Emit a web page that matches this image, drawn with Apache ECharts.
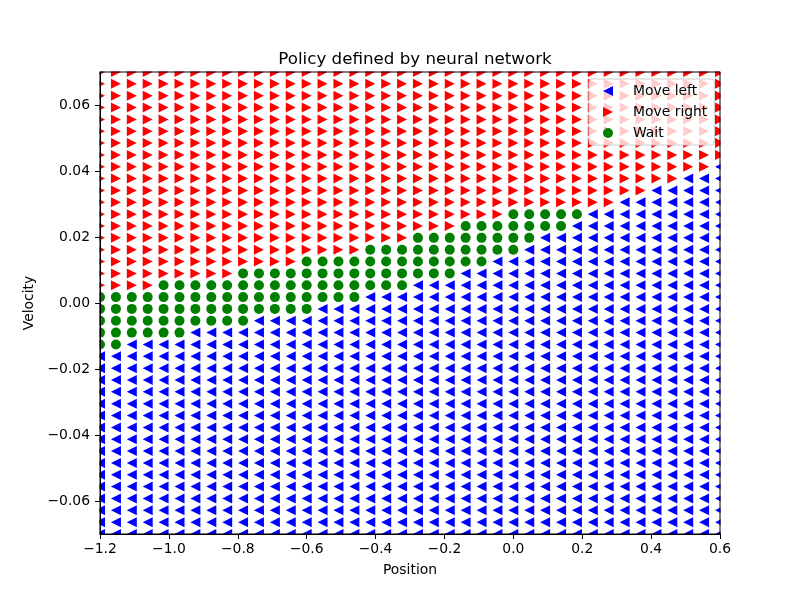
<!DOCTYPE html>
<html>
<head>
<meta charset="utf-8">
<title>Policy defined by neural network</title>
<script src="https://cdn.jsdelivr.net/npm/echarts@6/dist/echarts.min.js"></script>
<style>
  html, body { margin: 0; padding: 0; background: #fff; }
  #chart { width: 800px; height: 600px; }
</style>
</head>
<body>
<div id="chart"></div>
<script>
// grid of states the policy was evaluated on
var positions = [
  -1.2, -1.1538, -1.1077, -1.0615, -1.0154, -0.9692, -0.9231, -0.8769, -0.8308, -0.7846,
  -0.7385, -0.6923, -0.6462, -0.6, -0.5538, -0.5077, -0.4615, -0.4154, -0.3692, -0.3231,
  -0.2769, -0.2308, -0.1846, -0.1385, -0.0923, -0.0462, 0.0, 0.0462, 0.0923, 0.1385,
  0.1846, 0.2308, 0.2769, 0.3231, 0.3692, 0.4154, 0.4615, 0.5077, 0.5538, 0.6
];
var velocities = [
  -0.07, -0.06641, -0.06282, -0.05923, -0.05564, -0.05205, -0.04846, -0.04487, -0.04128, -0.03769,
  -0.0341, -0.03051, -0.02692, -0.02333, -0.01974, -0.01615, -0.01256, -0.00897, -0.00538, -0.00179,
  0.00179, 0.00538, 0.00897, 0.01256, 0.01615, 0.01974, 0.02333, 0.02692, 0.03051, 0.0341,
  0.03769, 0.04128, 0.04487, 0.04846, 0.05205, 0.05564, 0.05923, 0.06282, 0.06641, 0.07
];

// chosen action per state, one string per velocity row, top row first
// L = move left, R = move right, W = wait (spaces are only for counting)
var actionRows = [
  'RRRRRRRRRR RRRRRRRRRR RRRRRRRRRR RRRRRRRRRR', // 39
  'RRRRRRRRRR RRRRRRRRRR RRRRRRRRRR RRRRRRRRRR',
  'RRRRRRRRRR RRRRRRRRRR RRRRRRRRRR RRRRRRRRRR',
  'RRRRRRRRRR RRRRRRRRRR RRRRRRRRRR RRRRRRRRRR',
  'RRRRRRRRRR RRRRRRRRRR RRRRRRRRRR RRRRRRRRRR',
  'RRRRRRRRRR RRRRRRRRRR RRRRRRRRRR RRRRRRRRRR',
  'RRRRRRRRRR RRRRRRRRRR RRRRRRRRRR RRRRRRRRRR',
  'RRRRRRRRRR RRRRRRRRRR RRRRRRRRRR RRRRRRRRRR', // 32
  'RRRRRRRRRR RRRRRRRRRR RRRRRRRRRR RRRRRRRRRL',
  'RRRRRRRRRR RRRRRRRRRR RRRRRRRRRR RRRRRRRLLL',
  'RRRRRRRRRR RRRRRRRRRR RRRRRRRRRR RRRRRLLLLL',
  'RRRRRRRRRR RRRRRRRRRR RRRRRRRRRR RRRLLLLLLL', // 28
  'RRRRRRRRRR RRRRRRRRRR RRRRRRWWWW WLLLLLLLLL',
  'RRRRRRRRRR RRRRRRRRRR RRRWWWWWWW LLLLLLLLLL',
  'RRRRRRRRRR RRRRRRRRRR WWWWWWWWLL LLLLLLLLLL',
  'RRRRRRRRRR RRRRRRRWWW WWWWWWWLLL LLLLLLLLLL', // 24
  'RRRRRRRRRR RRRWWWWWWW WWWWWLLLLL LLLLLLLLLL',
  'RRRRRRRRRW WWWWWWWWWW WWWLLLLLLL LLLLLLLLLL',
  'RRRRWWWWWW WWWWWWWWWW LLLLLLLLLL LLLLLLLLLL',
  'WWWWWWWWWW WWWWWWWLLL LLLLLLLLLL LLLLLLLLLL', // 20
  'WWWWWWWWWW WWWWLLLLLL LLLLLLLLLL LLLLLLLLLL',
  'WWWWWWWWWW LLLLLLLLLL LLLLLLLLLL LLLLLLLLLL',
  'WWWWWWLLLL LLLLLLLLLL LLLLLLLLLL LLLLLLLLLL',
  'WWLLLLLLLL LLLLLLLLLL LLLLLLLLLL LLLLLLLLLL', // 16
  'LLLLLLLLLL LLLLLLLLLL LLLLLLLLLL LLLLLLLLLL',
  'LLLLLLLLLL LLLLLLLLLL LLLLLLLLLL LLLLLLLLLL',
  'LLLLLLLLLL LLLLLLLLLL LLLLLLLLLL LLLLLLLLLL',
  'LLLLLLLLLL LLLLLLLLLL LLLLLLLLLL LLLLLLLLLL',
  'LLLLLLLLLL LLLLLLLLLL LLLLLLLLLL LLLLLLLLLL',
  'LLLLLLLLLL LLLLLLLLLL LLLLLLLLLL LLLLLLLLLL',
  'LLLLLLLLLL LLLLLLLLLL LLLLLLLLLL LLLLLLLLLL',
  'LLLLLLLLLL LLLLLLLLLL LLLLLLLLLL LLLLLLLLLL',
  'LLLLLLLLLL LLLLLLLLLL LLLLLLLLLL LLLLLLLLLL',
  'LLLLLLLLLL LLLLLLLLLL LLLLLLLLLL LLLLLLLLLL',
  'LLLLLLLLLL LLLLLLLLLL LLLLLLLLLL LLLLLLLLLL',
  'LLLLLLLLLL LLLLLLLLLL LLLLLLLLLL LLLLLLLLLL',
  'LLLLLLLLLL LLLLLLLLLL LLLLLLLLLL LLLLLLLLLL',
  'LLLLLLLLLL LLLLLLLLLL LLLLLLLLLL LLLLLLLLLL',
  'LLLLLLLLLL LLLLLLLLLL LLLLLLLLLL LLLLLLLLLL',
  'LLLLLLLLLL LLLLLLLLLL LLLLLLLLLL LLLLLLLLLL'  // 0
];

var yTicks = [-0.06, -0.04, -0.02, 0.0, 0.02, 0.04, 0.06];

var FONT = 'DejaVu Sans';
var LEFT_ARROW = 'path://M10,0 L0,5 L10,10 Z';
var RIGHT_ARROW = 'path://M0,0 L10,5 L0,10 Z';

// plot box in pixels (matplotlib default axes placement)
var PLOT = { left: 100, top: 72, right: 720, bottom: 534 };

function fmt(v, digits) {
    var s = (Math.abs(v) < 1e-9 ? 0 : v).toFixed(digits);
    return s.replace('-', '\u2212');
}

// split the grid into one point list per action
var points = { L: [], R: [], W: [] };
actionRows.forEach(function (row, k) {
    var cells = row.replace(/ /g, '');
    var v = velocities[velocities.length - 1 - k];
    for (var j = 0; j < cells.length; j++) {
        points[cells[j]].push([positions[j], v]);
    }
});

// white masks around the plot box so edge markers look clipped, plus the frame
function maskRect(x, y, w, h) {
    return { type: 'rect', z: 3, silent: true, shape: { x: x, y: y, width: w, height: h }, style: { fill: '#fff' } };
}

var chart = echarts.init(document.getElementById('chart'), null, { renderer: 'canvas' });

var option = {
    backgroundColor: '#fff',
    animation: false,
    textStyle: { fontFamily: FONT },
    title: {
        text: 'Policy defined by neural network',
        left: 410,
        textAlign: 'center',
        top: 46,
        z: 8,
        textStyle: { fontFamily: FONT, fontSize: 16.7, fontWeight: 'normal', color: '#000' }
    },
    legend: {
        orient: 'vertical',
        left: 589,
        top: 79,
        z: 8,
        padding: [5, 7, 5, 14],
        itemGap: 7,
        itemWidth: 10,
        itemHeight: 10,
        backgroundColor: 'rgba(255,255,255,0.8)',
        borderColor: '#cccccc',
        borderWidth: 1,
        borderRadius: 3,
        textStyle: { fontFamily: FONT, fontSize: 13.9, color: '#000', padding: [0, 0, 0, 15] },
        data: [
            { name: 'Move left', icon: LEFT_ARROW },
            { name: 'Move right', icon: RIGHT_ARROW },
            { name: 'Wait', icon: 'circle' }
        ]
    },
    graphic: [
        maskRect(0, 0, PLOT.left - 0.5, 600),
        maskRect(PLOT.right + 0.5, 0, 800 - PLOT.right, 600),
        maskRect(0, 0, 800, PLOT.top - 0.5),
        maskRect(0, PLOT.bottom + 0.5, 800, 600 - PLOT.bottom),
        {
            type: 'rect', z: 4, silent: true,
            shape: { x: PLOT.left, y: PLOT.top, width: PLOT.right - PLOT.left, height: PLOT.bottom - PLOT.top },
            style: { fill: 'none', stroke: '#000', lineWidth: 1 }
        }
    ],
    grid: {
        left: PLOT.left,
        right: 800 - PLOT.right,
        top: PLOT.top,
        bottom: 600 - PLOT.bottom,
        show: false
    },
    xAxis: {
        type: 'value',
        z: 10,
        min: -1.2,
        max: 0.6,
        interval: 0.2,
        name: 'Position',
        nameLocation: 'middle',
        nameGap: 29,
        nameTextStyle: { fontFamily: FONT, fontSize: 13.9, color: '#000' },
        axisLine: { onZero: false, lineStyle: { color: '#000', width: 1 } },
        axisTick: { inside: false, length: 5, lineStyle: { color: '#000' } },
        axisLabel: {
            margin: 8,
            fontFamily: FONT,
            fontSize: 13.9,
            color: '#000',
            formatter: function (v) { return fmt(v, 1); }
        },
        splitLine: { show: false }
    },
    yAxis: {
        type: 'value',
        z: 10,
        min: -0.07,
        max: 0.07,
        name: 'Velocity',
        nameLocation: 'middle',
        nameGap: 58,
        nameTextStyle: { fontFamily: FONT, fontSize: 13.9, color: '#000' },
        axisLine: { onZero: false, lineStyle: { color: '#000', width: 1 } },
        axisTick: { inside: false, length: 5, lineStyle: { color: '#000' }, customValues: yTicks },
        axisLabel: {
            margin: 10,
            fontFamily: FONT,
            fontSize: 13.9,
            color: '#000',
            customValues: yTicks,
            formatter: function (v) { return fmt(v, 2); }
        },
        splitLine: { show: false }
    },
    series: [
        {
            name: 'Move left',
            type: 'scatter',
            symbol: LEFT_ARROW,
            symbolSize: 10,
            itemStyle: { color: '#0000ff', opacity: 1 },
            data: points.L
        },
        {
            name: 'Move right',
            type: 'scatter',
            symbol: RIGHT_ARROW,
            symbolSize: 10,
            itemStyle: { color: '#ff0000', opacity: 1 },
            data: points.R
        },
        {
            name: 'Wait',
            type: 'scatter',
            symbol: 'circle',
            symbolSize: 10,
            itemStyle: { color: '#008000', opacity: 1 },
            data: points.W
        }
    ]
};

chart.setOption(option);
</script>
</body>
</html>
